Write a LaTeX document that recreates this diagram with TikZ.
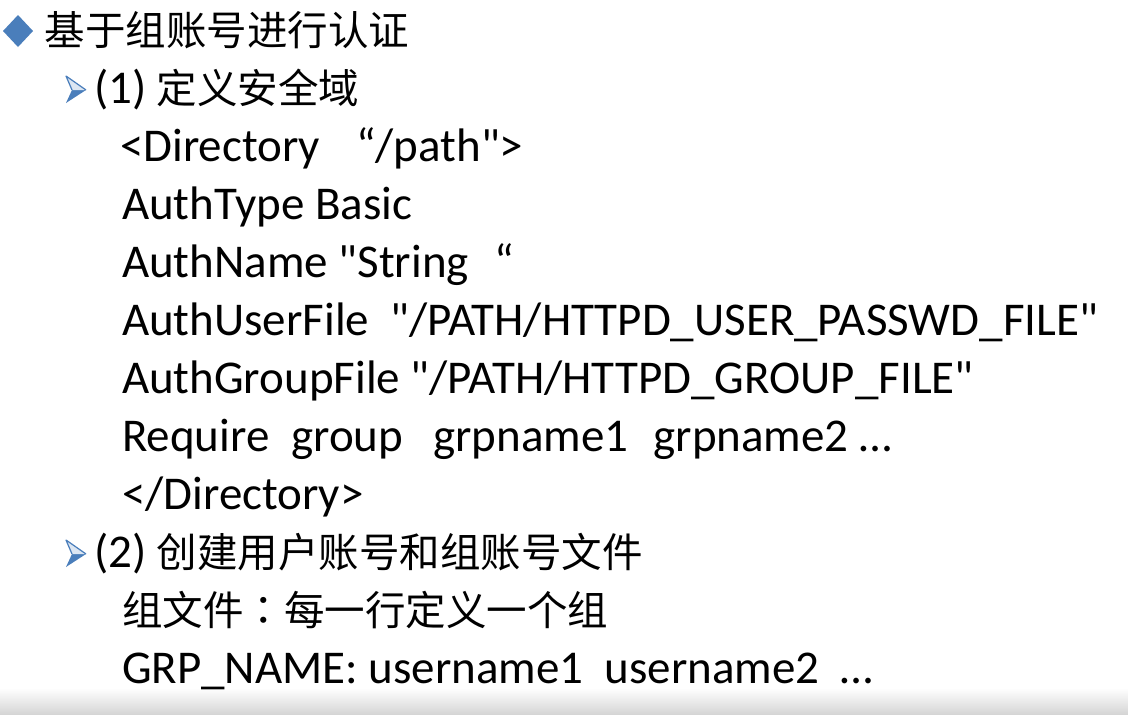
\documentclass[tikz,border=0pt]{standalone}
\usepackage{fontspec}
\setmainfont{Carlito}[Ligatures=TeXOff]
\newfontfamily\cjk{Noto Sans CJK SC}
\newfontfamily\cjktc{Noto Sans CJK TC}
\definecolor{bulletblue}{HTML}{4A7EBB}
\definecolor{bulletlight}{HTML}{DCE6F2}
\newcommand\zh[1]{{\cjk\fontsize{40.5}{48}\selectfont #1}}
\newcommand\zhc{{\cjktc\fontsize{40.5}{48}\selectfont ：}}
\tikzset{
  line/.style={anchor=base west, inner sep=0pt, outer sep=0pt, font=\fontsize{47}{52}\selectfont, text=black},
  arrowbullet/.pic={
    \fill[bulletblue] (0,0) -- (-14,0) -- (-20,13) -- cycle;
    \fill[bulletlight] (0,0) -- (-14,0) -- (-20,-14) -- cycle;
    \draw[bulletblue, line width=1.2pt, line join=round] (0,0) -- (-20,-14) -- (-14,0);
  }
}
\begin{document}
\begin{tikzpicture}[x=1pt,y=-1pt]
\useasboundingbox (0,0) rectangle (1128,715);
\fill[white] (0,0) rectangle (1128,715);
\shade[top color=white, bottom color=black!17] (0,688) rectangle (1128,715);
% diamond bullet
\fill[bulletblue] (18,15) -- (33,31) -- (18,47) -- (3,31) -- cycle;
\node[line] (title) at (45,45) {\zh{基于组账号进行认证}};
% sub bullets
\pic at (86,90) {arrowbullet};
\node[line] (s1) at (94,103) {(1) \zh{定义安全域}};
\node[line] (l1) at (120,161) {<Directory\hspace{36pt}“/path">};
\node[line] (l2) at (122,219) {AuthType Basic};
\node[line] (l3) at (122,277) {AuthName "String\hspace{26pt}“};
\node[line] (l4) at (122,335) {AuthUserFile \ "/PATH/HTTPD\_USER\_PASSWD\_FILE"};
\node[line] (l5) at (122,393) {AuthGroupFile "/PATH/HTTPD\_GROUP\_FILE"};
\node[line] (l6) at (122,451) {Require\hspace{22pt}group\hspace{30pt}grpname1\hspace{25pt}grpname2 …};
\node[line] (l7) at (122,509) {</Directory>};
\pic at (86,554) {arrowbullet};
\node[line] (s2) at (94,567) {(2) \zh{创建用户账号和组账号文件}};
\node[line] (l8) at (122,625) {\zh{组文件}\zhc\zh{每一行定义一个组}};
\node[line] (l9) at (122,683) {GRP\_NAME: username1 \ username2 \ …};
\end{tikzpicture}
\end{document}
